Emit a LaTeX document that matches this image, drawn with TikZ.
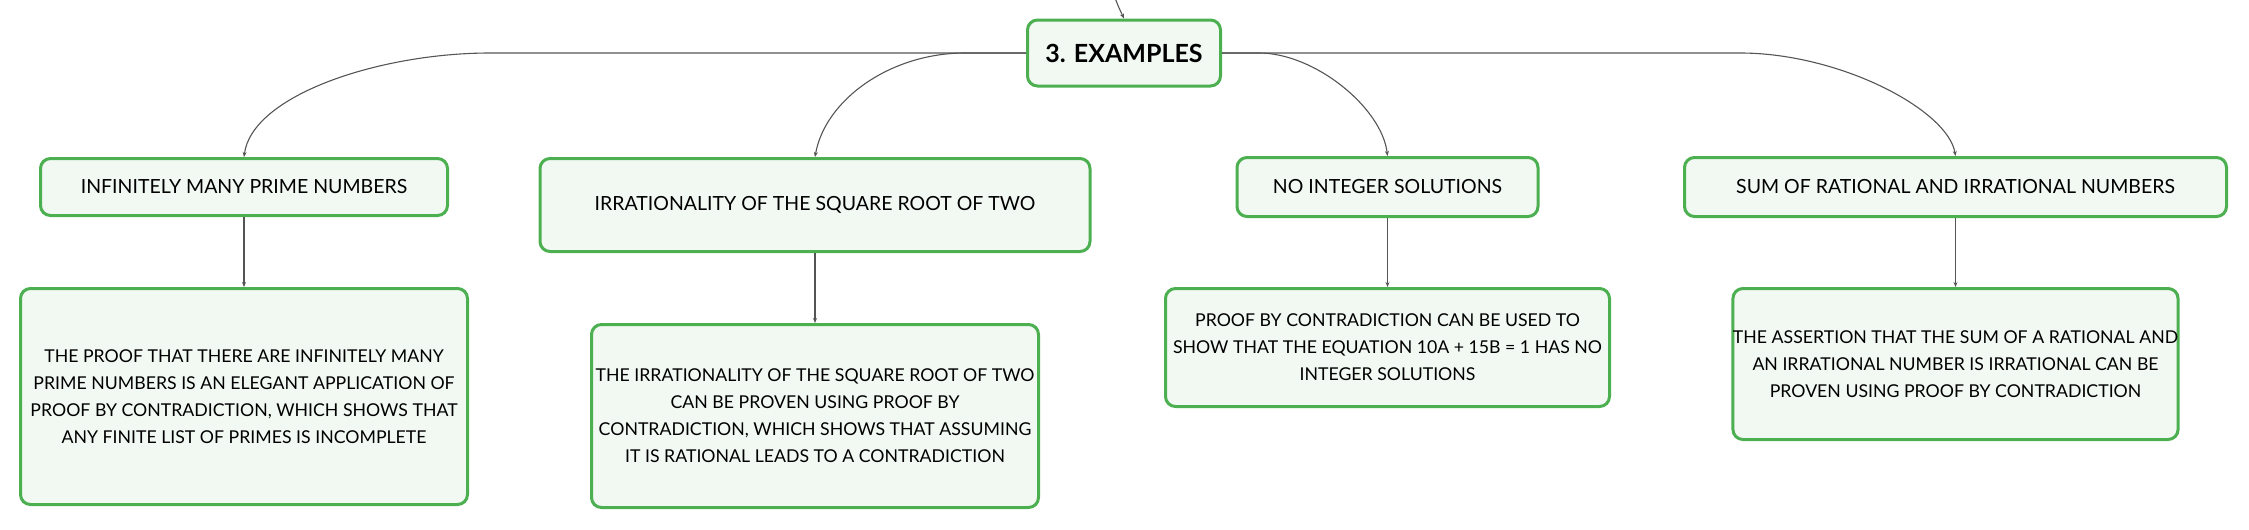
\documentclass[tikz,border=0pt]{standalone}
\usepackage{fontspec}
\setmainfont{Lato}
\usetikzlibrary{arrows.meta}
\definecolor{boxgreen}{HTML}{4CAF50}
\definecolor{boxfill}{HTML}{F2F9F3}
\definecolor{linkgray}{HTML}{555555}
\begin{document}
\begin{tikzpicture}[x=1pt,y=-1pt,
  box/.style={draw=boxgreen, fill=boxfill, line width=3pt, rounded corners=10pt, align=center, inner sep=0pt, text=black},
  rootbox/.style={box, font=\fontsize{25}{30}\selectfont\bfseries},
  headbox/.style={box, font=\fontsize{19.5}{24}\selectfont},
  bodybox/.style={box, font=\fontsize{17.7}{27}\selectfont},
  link/.style={draw=linkgray, line width=1.1pt, -{Stealth[length=5pt,width=4pt]}}]
\useasboundingbox (0,0) rectangle (2249,530);
% root
\node[rootbox, minimum width=193pt, minimum height=66pt] (root) at (1124,53) {3. EXAMPLES};
% level 1
\node[headbox, minimum width=407pt, minimum height=57pt] (b1) at (244,187) {INFINITELY MANY PRIME NUMBERS};
\node[headbox, minimum width=550pt, minimum height=93pt] (b2) at (815,205) {IRRATIONALITY OF THE SQUARE ROOT OF TWO};
\node[headbox, minimum width=301pt, minimum height=59pt] (b3) at (1387.5,187) {NO INTEGER SOLUTIONS};
\node[headbox, minimum width=542pt, minimum height=59pt] (b4) at (1955.5,187) {SUM OF RATIONAL AND IRRATIONAL NUMBERS};
% level 2
\node[bodybox, minimum width=447pt, minimum height=216pt] (c1) at (244,396.5) {THE PROOF THAT THERE ARE INFINITELY MANY\\PRIME NUMBERS IS AN ELEGANT APPLICATION OF\\PROOF BY CONTRADICTION, WHICH SHOWS THAT\\ANY FINITE LIST OF PRIMES IS INCOMPLETE};
\node[bodybox, minimum width=447pt, minimum height=183pt] (c2) at (815,416) {THE IRRATIONALITY OF THE SQUARE ROOT OF TWO\\CAN BE PROVEN USING PROOF BY\\CONTRADICTION, WHICH SHOWS THAT ASSUMING\\IT IS RATIONAL LEADS TO A CONTRADICTION};
\node[bodybox, minimum width=444pt, minimum height=118pt] (c3) at (1387.5,347.5) {PROOF BY CONTRADICTION CAN BE USED TO\\SHOW THAT THE EQUATION 10A + 15B = 1 HAS NO\\INTEGER SOLUTIONS};
\node[bodybox, minimum width=444pt, minimum height=151pt] (c4) at (1955.5,364) {THE ASSERTION THAT THE SUM OF A RATIONAL AND\\AN IRRATIONAL NUMBER IS IRRATIONAL CAN BE\\PROVEN USING PROOF BY CONTRADICTION};
% incoming connector from off-picture parent
\coordinate (in) at (1115,-2);
\draw[link] (in) .. controls (1119,8) .. (root.north);
% knee coordinates
\coordinate (k1) at (490,53);
\coordinate (k2) at (965,53);
\coordinate (k3) at (1259,53);
\coordinate (k4) at (1740,53);
\draw[link] (root.west) -- (k1) .. controls (380,53) and (252,95) .. (b1.north);
\draw[link] (root.west) -- (k2) .. controls (890,53) and (825,100) .. (b2.north);
\draw[link] (root.east) -- (k3) .. controls (1315,53) and (1382,108) .. (b3.north);
\draw[link] (root.east) -- (k4) .. controls (1840,53) and (1948,110) .. (b4.north);
% vertical connectors
\draw[link] (b1.south) -- (c1.north);
\draw[link] (b2.south) -- (c2.north);
\draw[link] (b3.south) -- (c3.north);
\draw[link] (b4.south) -- (c4.north);
\end{tikzpicture}
\end{document}
